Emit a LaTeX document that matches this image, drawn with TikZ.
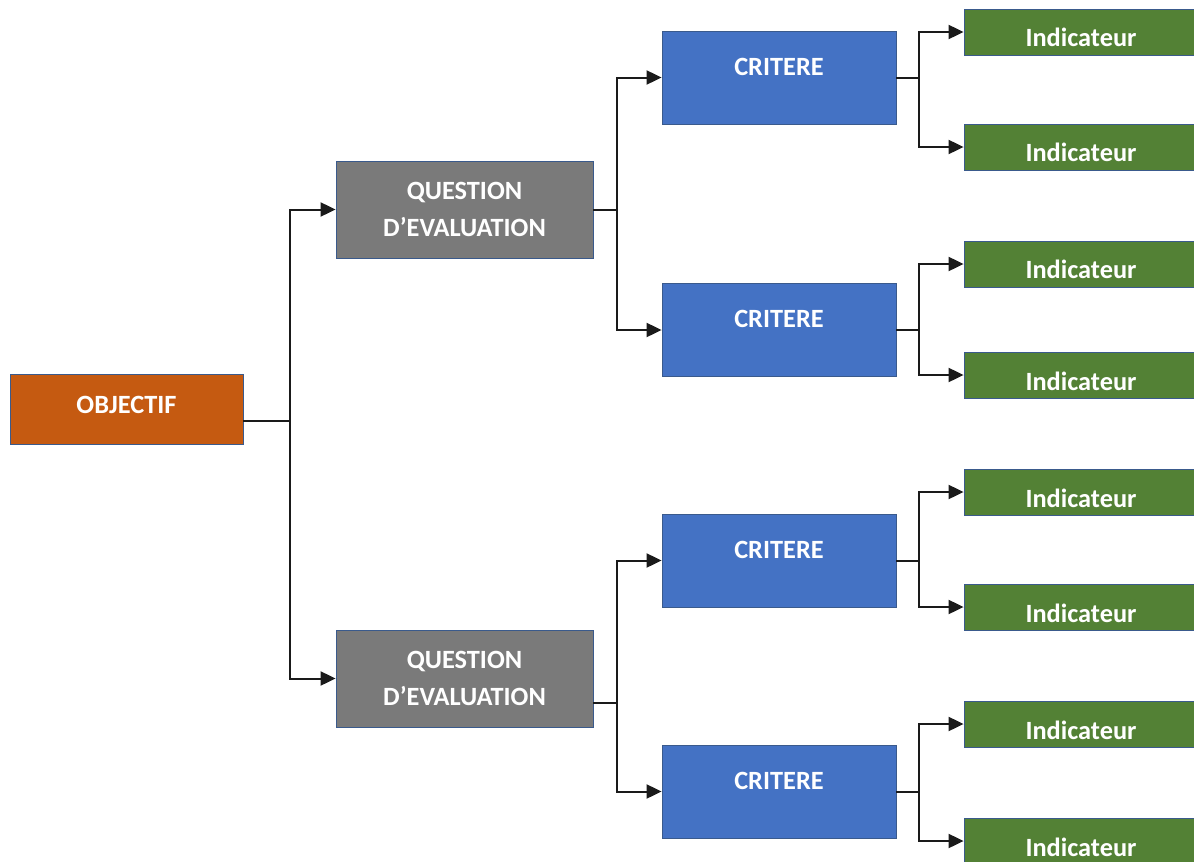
\documentclass[tikz,border=0pt]{standalone}
\usepackage{fontspec}
\setmainfont{Carlito}
\usetikzlibrary{arrows.meta}
\definecolor{orangeobj}{HTML}{C55A11}
\definecolor{grisq}{HTML}{7A7A7A}
\definecolor{bleucrit}{HTML}{4472C4}
\definecolor{vertind}{HTML}{538135}
\definecolor{bordure}{HTML}{3A5A8C}
\definecolor{trait}{HTML}{1A1A1A}
\begin{document}
\begin{tikzpicture}[x=0.02cm, y=-0.02cm, >={Triangle[length=0.3cm, width=0.28cm]},
	boite/.style={draw=bordure, line width=0.5pt, inner sep=0pt, text=white, font=\fontsize{15}{21}\selectfont\bfseries},
	objectif/.style={boite, fill=orangeobj, minimum width=4.66cm, minimum height=1.4cm, text height=0.34cm, text depth=0.16cm},
	question/.style={boite, fill=grisq, minimum width=5.14cm, minimum height=1.94cm, align=center},
	critere/.style={boite, fill=bleucrit, minimum width=4.68cm, minimum height=1.86cm, text height=0.34cm, text depth=0.44cm},
	indic/.style={boite, fill=vertind, minimum width=4.68cm, minimum height=0.92cm, text height=0.6cm, text depth=0cm},
	lien/.style={draw=trait, line width=0.04cm}]
	% Cadre de l'image
	\useasboundingbox (0,0) rectangle (1194,862);
	\clip (0,0) rectangle (1194,862);
	% Objectif et questions
	\node[objectif] (obj) at (126.5,409) {OBJECTIF};
	\node[question] (q1) at (464.5,209.5) {QUESTION\\D’EVALUATION};
	\node[question] (q2) at (464.5,678.5) {QUESTION\\D’EVALUATION};
	% Critères
	\foreach \n/\y in {1/77.5, 2/330, 3/560.5, 4/791.5} {
	\node[critere] (c\n) at (779,\y) {CRITERE};
	}
	% Indicateurs
	\foreach \n/\y in {1/32, 2/147, 3/264, 4/375, 5/492, 6/607, 7/724, 8/841} {
	\node[indic] (i\n) at (1081,\y) {Indicateur};
	}
	% Liens objectif -> questions
	\draw[lien] ([yshift=-0.24cm]obj.east) -- ++(47,0) coordinate (j0);
	\draw[lien,->] (j0) |- (q1);
	\draw[lien,->] (j0) |- (q2);
	% Liens questions -> critères
	\draw[lien] (q1.east) -- ++(24,0) coordinate (j1);
	\draw[lien,->] (j1) |- (c1);
	\draw[lien,->] (j1) |- (c2);
	\draw[lien] ([yshift=-0.48cm]q2.east) -- ++(24,0) coordinate (j2);
	\draw[lien,->] (j2) |- (c3);
	\draw[lien,->] (j2) |- (c4);
	% Liens critères -> indicateurs
	\foreach \c/\a/\b in {1/1/2, 2/3/4, 3/5/6, 4/7/8} {
	\draw[lien] (c\c.east) -- ++(23,0) coordinate (k\c);
	\draw[lien,->] (k\c) |- (i\a);
	\draw[lien,->] (k\c) |- (i\b);
	}
\end{tikzpicture}
\end{document}
